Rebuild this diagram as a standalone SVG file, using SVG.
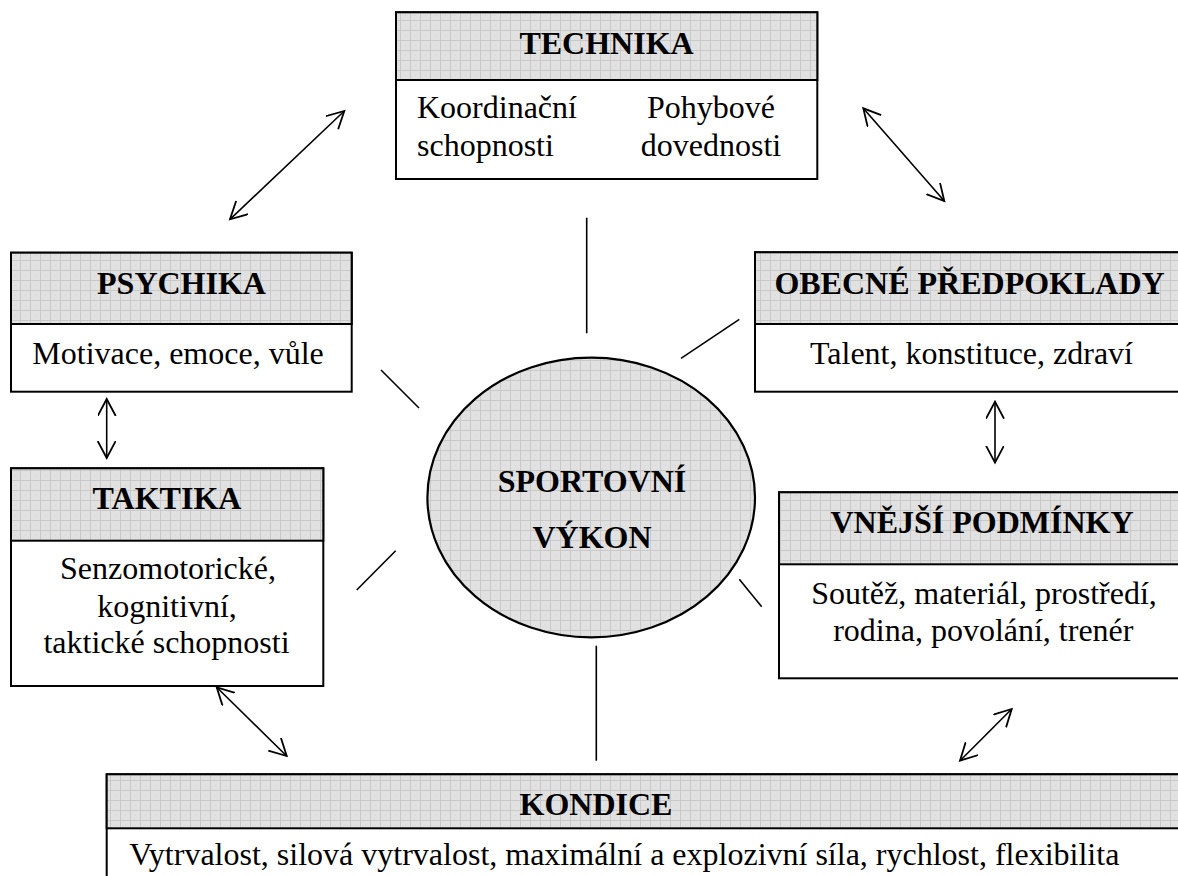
<svg xmlns="http://www.w3.org/2000/svg" width="1178" height="876" viewBox="0 0 1178 876">
<defs>
<pattern id="grid" width="10" height="10" patternUnits="userSpaceOnUse">
<rect width="10" height="10" fill="#e1e1e1"/>
<rect x="0" y="0" width="1" height="1" fill="#d4d4d4"/>
<rect x="5" y="5" width="1" height="1" fill="#d4d4d4"/>
<path d="M0.5,0 V10 M0,0.5 H10" stroke="#c9c9c9" stroke-width="1" fill="none"/>
</pattern>
<marker id="arr" markerUnits="userSpaceOnUse" markerWidth="20" markerHeight="20" refX="17" refY="9" orient="auto-start-reverse">
<path d="M0,0 L17,9 L0,18" fill="none" stroke="#000" stroke-width="1.8"/>
</marker>
<style>
.box{fill:#fff;stroke:#000;stroke-width:2}
.hdr{fill:url(#grid);stroke:#000;stroke-width:2}
.h{font-family:"Liberation Serif","Times New Roman",serif;font-weight:bold;font-size:32px;text-anchor:middle;fill:#000}
.t{font-family:"Liberation Serif","Times New Roman",serif;font-size:32px;text-anchor:middle;fill:#000}
.l{stroke:#000;stroke-width:1.6;fill:none}
.a{stroke:#000;stroke-width:1.6;fill:none;marker-start:url(#arr);marker-end:url(#arr)}
</style>
</defs>
<rect width="1178" height="876" fill="#fff"/>

<g id="connectors">
<line class="a" x1="230" y1="219.3" x2="344.3" y2="111"/>
<line class="a" x1="863.3" y1="108.3" x2="944.3" y2="201"/>
<line class="a" x1="106.7" y1="399" x2="106.7" y2="458"/>
<line class="a" x1="995" y1="401.7" x2="995" y2="462.7"/>
<line class="a" x1="216.7" y1="687.3" x2="286.7" y2="756"/>
<line class="a" x1="1011.7" y1="709" x2="960" y2="760.7"/>
<line class="l" x1="586.7" y1="217.7" x2="586.7" y2="333.3"/>
<line class="l" x1="681" y1="358.3" x2="739.3" y2="319.3"/>
<line class="l" x1="381" y1="370" x2="419" y2="408"/>
<line class="l" x1="395.7" y1="550.7" x2="356.7" y2="590"/>
<line class="l" x1="739.3" y1="579.3" x2="761.7" y2="606.7"/>
<line class="l" x1="596.3" y1="645.7" x2="596.3" y2="760.7"/>
</g>

<g id="technika">
<rect class="box" x="396" y="12.3" width="421.3" height="166.7"/>
<rect class="hdr" x="396" y="12.3" width="421.3" height="67.7"/>
<text class="h" x="606.5" y="54">TECHNIKA</text>
<text class="t" x="417" y="118" style="text-anchor:start">Koordinační</text>
<text class="t" x="417" y="156" style="text-anchor:start">schopnosti</text>
<text class="t" x="711" y="118">Pohybové</text>
<text class="t" x="711" y="156">dovednosti</text>
</g>

<g id="psychika">
<rect class="box" x="11" y="252.7" width="340.7" height="139"/>
<rect class="hdr" x="11" y="252.7" width="340.7" height="71.3"/>
<text class="h" x="181.5" y="294">PSYCHIKA</text>
<text class="t" x="178" y="364">Motivace, emoce, vůle</text>
</g>

<g id="taktika">
<rect class="box" x="11" y="468.3" width="312.3" height="217.7"/>
<rect class="hdr" x="11" y="468.3" width="312.3" height="72.4"/>
<text class="h" x="167" y="509.3">TAKTIKA</text>
<text class="t" x="168" y="579.3">Senzomotorické,</text>
<text class="t" x="167" y="617">kognitivní,</text>
<text class="t" x="166.5" y="652.7">taktické schopnosti</text>
</g>

<g id="obecne">
<rect class="box" x="755" y="252.3" width="429" height="139.4"/>
<rect class="hdr" x="755" y="252.3" width="429" height="71.7"/>
<text class="h" x="969.5" y="294">OBECNÉ PŘEDPOKLADY</text>
<text class="t" x="971.5" y="364">Talent, konstituce, zdraví</text>
</g>

<g id="vnejsi">
<rect class="box" x="779" y="492.3" width="406" height="186"/>
<rect class="hdr" x="779" y="492.3" width="406" height="72"/>
<text class="h" x="982" y="533.3">VNĚJŠÍ PODMÍNKY</text>
<text class="t" x="984" y="604">Soutěž, materiál, prostředí,</text>
<text class="t" x="983.3" y="640.7">rodina, povolání, trenér</text>
</g>

<g id="kondice">
<rect class="box" x="106.7" y="774.3" width="1080" height="110"/>
<rect class="hdr" x="106.7" y="774.3" width="1080" height="54"/>
<text class="h" x="596" y="815">KONDICE</text>
<text class="t" x="129.3" y="865" style="text-anchor:start">Vytrvalost, silová vytrvalost, maximální a explozivní síla, rychlost, flexibilita</text>
</g>

<g id="vykon">
<ellipse cx="591.2" cy="497.5" rx="163.8" ry="139.8" fill="url(#grid)" stroke="#000" stroke-width="2.2"/>
<text class="h" x="592" y="491.7">SPORTOVNÍ</text>
<text class="h" x="592" y="548.3">VÝKON</text>
</g>
</svg>
